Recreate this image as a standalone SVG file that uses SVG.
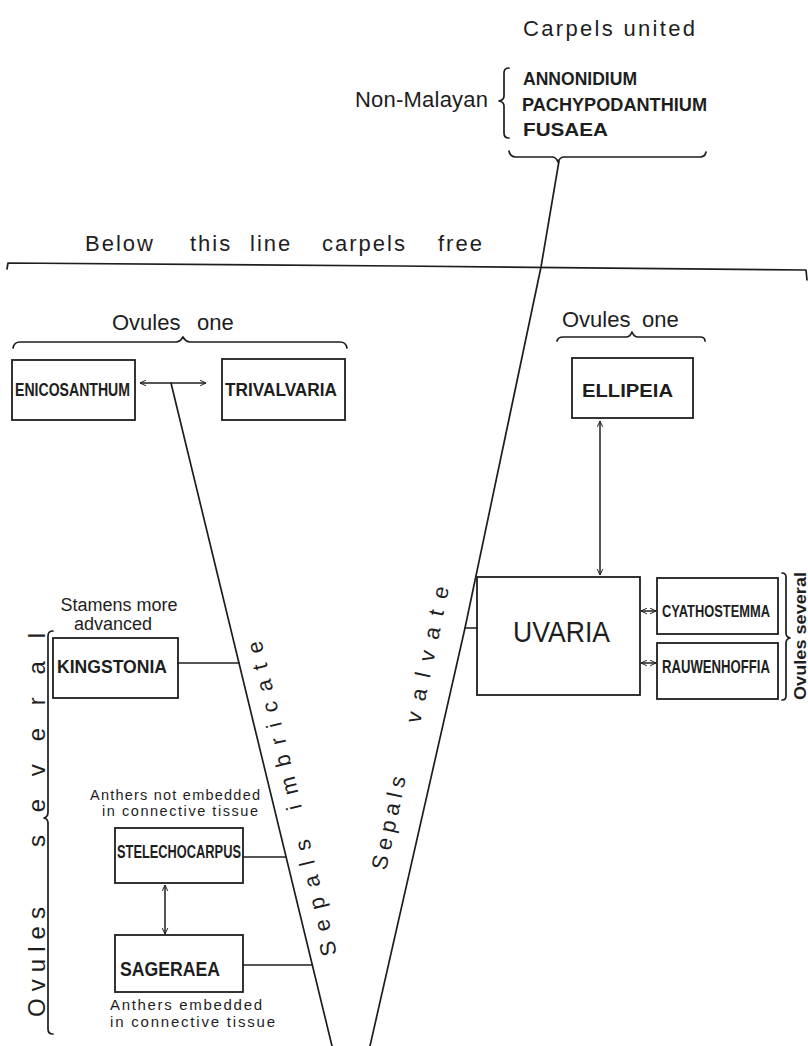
<svg xmlns="http://www.w3.org/2000/svg" width="808" height="1046" viewBox="0 0 808 1046">
<style>
.ln{fill:none;stroke:#1e1e1e;stroke-width:1.7;stroke-linecap:round;stroke-linejoin:round}
.box{fill:none;stroke:#1e1e1e;stroke-width:1.8}
.hand{font-family:"Liberation Sans",Arial,sans-serif;fill:#1e1e1e}
.gen{font-family:"Liberation Sans",Arial,sans-serif;font-weight:bold;fill:#1e1e1e}
.arr{fill:none;stroke:#1e1e1e;stroke-width:1.5;marker-start:url(#ah);marker-end:url(#ah)}
</style>
<defs>
<marker id="ah" viewBox="0 0 10 10" refX="9.5" refY="5" markerWidth="7" markerHeight="7" markerUnits="userSpaceOnUse" orient="auto-start-reverse">
<path d="M1,1 L9.5,5 L1,9" fill="none" stroke="#1e1e1e" stroke-width="1.4"/>
</marker>
</defs>
<rect width="808" height="1046" fill="#ffffff"/>

<g id="carpels-united">
<text class="hand" x="523" y="36" font-size="22" textLength="172">Carpels  united</text>
<text class="hand" x="355" y="107" font-size="22" textLength="133">Non-Malayan</text>
<path class="ln" d="M509,68 Q504,68 504,73 L504,96 Q504,100 499,101 Q504,102 504,106 L504,133 Q504,138 509,138"/>
<text class="gen" x="523" y="85" font-size="18" textLength="114" lengthAdjust="spacingAndGlyphs">ANNONIDIUM</text>
<text class="gen" x="522" y="111" font-size="18" textLength="185" lengthAdjust="spacingAndGlyphs">PACHYPODANTHIUM</text>
<text class="gen" x="523" y="136" font-size="18" textLength="85" lengthAdjust="spacingAndGlyphs">FUSAEA</text>
<path class="ln" d="M509,151 Q510,157 516,157 L552,157 Q556,157 558,162 Q560,157 564,157 L700,157 Q705,157 706,152"/>
</g>

<g id="carpels-free-line">
<text class="hand" y="251" font-size="22" letter-spacing="2"><tspan x="85">Below</tspan><tspan x="190">this</tspan><tspan x="250">line</tspan><tspan x="322">carpels</tspan><tspan x="438">free</tspan></text>
<polyline class="ln" points="7,269 8,263 400,266 806,270 807,280"/>
</g>

<g id="ovules-one-left">
<text class="hand" y="330" font-size="22"><tspan x="112">Ovules</tspan><tspan x="197">one</tspan></text>
<path class="ln" d="M13,348 Q14,342 20,342 L176,342 Q180,342 183,337 Q186,342 190,342 L340,342 Q346,342 347,348"/>
</g>

<g id="ovules-one-right">
<text class="hand" y="327" font-size="22"><tspan x="562">Ovules</tspan><tspan x="642">one</tspan></text>
<path class="ln" d="M557,341 Q558,337 563,337 L626,337 Q630,337 632,332 Q634,337 638,337 L700,337 Q705,337 705,341"/>
</g>

<g id="enicosanthum">
<rect class="box" x="12" y="360" width="123" height="60"/>
<text class="gen" x="15" y="396" font-size="19" textLength="115" lengthAdjust="spacingAndGlyphs">ENICOSANTHUM</text>
</g>
<g id="trivalvaria">
<rect class="box" x="222" y="359" width="123" height="61"/>
<text class="gen" x="225" y="396" font-size="19" textLength="112" lengthAdjust="spacingAndGlyphs">TRIVALVARIA</text>
</g>
<g id="ellipeia">
<rect class="box" x="572" y="358" width="121" height="60"/>
<text class="gen" x="582" y="397" font-size="19" textLength="91" lengthAdjust="spacingAndGlyphs">ELLIPEIA</text>
</g>
<g id="uvaria">
<rect class="box" x="477" y="577" width="163" height="118"/>
<text class="hand" x="513" y="642" font-size="30" textLength="97" lengthAdjust="spacingAndGlyphs">UVARIA</text>
</g>
<g id="cyathostemma">
<rect class="box" x="657" y="578" width="121" height="56"/>
<text class="gen" x="662" y="617" font-size="17" textLength="108" lengthAdjust="spacingAndGlyphs">CYATHOSTEMMA</text>
</g>
<g id="rauwenhoffia">
<rect class="box" x="657" y="643" width="121" height="56"/>
<text class="gen" x="662" y="673" font-size="18" textLength="108" lengthAdjust="spacingAndGlyphs">RAUWENHOFFIA</text>
</g>
<g id="ovules-several-right">
<path class="ln" d="M782,573 Q786,573 786,577 L786,633 Q786,637 790,638 Q786,639 786,643 L786,696 Q786,700 782,700"/>
<text class="gen" transform="translate(806,700) rotate(-90)" font-size="16" textLength="128" lengthAdjust="spacingAndGlyphs">Ovules several</text>
</g>
<g id="kingstonia">
<text class="hand" x="119" y="611" font-size="18" text-anchor="middle">Stamens more</text>
<text class="hand" x="113" y="630" font-size="18" text-anchor="middle">advanced</text>
<rect class="box" x="53" y="638" width="125" height="60"/>
<text class="gen" x="57" y="673" font-size="19" textLength="110" lengthAdjust="spacingAndGlyphs">KINGSTONIA</text>
</g>
<g id="stelechocarpus">
<text class="hand" x="90" y="800" font-size="14.5" textLength="170">Anthers not embedded</text>
<text class="hand" x="102" y="816" font-size="14.5" textLength="156">in connective tissue</text>
<rect class="box" x="115" y="828" width="128" height="55"/>
<text class="gen" x="117" y="858" font-size="19" textLength="124" lengthAdjust="spacingAndGlyphs">STELECHOCARPUS</text>
</g>
<g id="sageraea">
<rect class="box" x="115" y="935" width="128" height="57"/>
<text class="gen" x="120" y="976" font-size="21" textLength="100" lengthAdjust="spacingAndGlyphs">SAGERAEA</text>
<text class="hand" x="110" y="1010" font-size="15" textLength="152">Anthers embedded</text>
<text class="hand" x="110" y="1027" font-size="15" textLength="165">in connective tissue</text>
</g>
<g id="ovules-several-left">
<path class="ln" d="M53,631 Q48,631 48,636 L48,812 Q48,817 44,818 Q48,819 48,823 L48,1029 Q48,1034 53,1034"/>
<text class="hand" transform="translate(45,1017) rotate(-90)" font-size="24" textLength="110">Ovules</text>
<text class="hand" transform="translate(45,847) rotate(-90)" font-size="24" textLength="214">several</text>
</g>
<g id="sepals-imbricate">
<text class="hand" transform="translate(337,954) rotate(-103.65)" font-size="22" textLength="119">Sepals</text>
<text class="hand" transform="translate(302,808) rotate(-103.65)" font-size="22" textLength="173">imbricate</text>
</g>
<g id="sepals-valvate">
<text class="hand" transform="translate(386,871) rotate(-77.9)" font-size="22" textLength="95">Sepals</text>
<text class="hand" transform="translate(420,724) rotate(-77.9)" font-size="22" textLength="139">valvate</text>
</g>

<g id="connectors">
<polyline class="ln" points="559,161 541,267 465,628 370,1046"/>
<line class="ln" x1="171" y1="383" x2="332" y2="1046"/>
<line class="arr" x1="140" y1="383" x2="206" y2="383"/>
<line class="arr" x1="600" y1="421" x2="600" y2="575"/>
<line class="arr" x1="641" y1="611" x2="656" y2="611"/>
<line class="arr" x1="641" y1="663" x2="656" y2="663"/>
<line class="arr" x1="165" y1="885" x2="165" y2="934"/>
<line class="ln" x1="178" y1="663" x2="239" y2="663"/>
<line class="ln" x1="243" y1="857" x2="286" y2="857"/>
<line class="ln" x1="243" y1="965" x2="312" y2="965"/>
<line class="ln" x1="465" y1="628" x2="477" y2="628"/>
</g>
</svg>
